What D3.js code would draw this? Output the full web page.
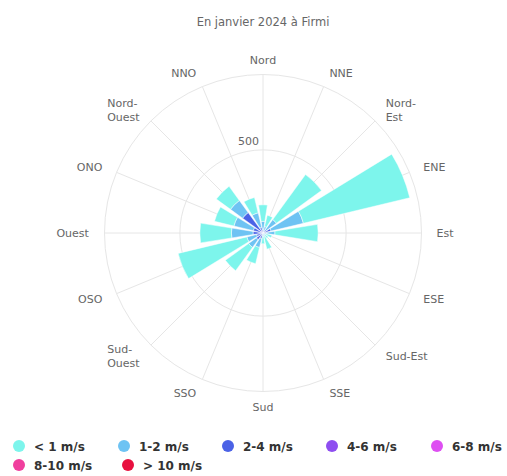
<!DOCTYPE html>
<html>
<head>
<meta charset="utf-8">
<script src="https://cdn.jsdelivr.net/npm/d3@7"></script>
<style>
  body { margin: 0; background: #fff; }
  svg { display: block; font-family: "DejaVu Sans", Verdana, sans-serif; }
</style>
</head>
<body>
<div id="chart"></div>
<script>
// directions, clockwise from north
var directions = ["N", "NNE", "NE", "ENE", "E", "ESE", "SE", "SSE",
                  "S", "SSO", "SO", "OSO", "O", "ONO", "NO", "NNO"];
var dirLabels = [["Nord"], ["NNE"], ["Nord-", "Est"], ["ENE"], ["Est"], ["ESE"], ["Sud-Est"], ["SSE"],
                 ["Sud"], ["SSO"], ["Sud-", "Ouest"], ["OSO"], ["Ouest"], ["ONO"], ["Nord-", "Ouest"], ["NNO"]];

// one array per speed class (same order as directions)
var lt1   = [100, 70, 335, 658, 260, 35, 25, 75, 45, 100, 173, 425, 190, 120, 105, 95];
var s1_2  = [ 50, 30,  75, 200,  50, 15, 10, 20, 15,  55,  57,  60, 130, 120,  90, 90];
var s2_4  = [ 20, 10,  25,  40,  20,  5,  5,  5,  5,  30,  40,  30,  50,  50, 135, 30];
var s4_6  = [  0,  0,   0,  10,   2,  0,  0,  0,  0,   5,  10,  10,  10,  10,  15,  5];
var s6_8  = [  0,  0,   0,   0,   0,  0,  0,  0,  0,   0,   0,   0,   0,   0,   2,  0];
var s8_10 = [  0,  0,   0,   0,   0,  0,  0,  0,  0,   0,   0,   0,   0,   0,   0,  0];
var gt10  = [  0,  0,   0,   0,   0,  0,  0,  0,  0,   0,   0,   0,   0,   0,   0,  0];

var seriesNames = ["< 1 m/s", "1-2 m/s", "2-4 m/s", "4-6 m/s", "6-8 m/s", "8-10 m/s", "> 10 m/s"];
var seriesData = [lt1, s1_2, s2_4, s4_6, s6_8, s8_10, gt10];
var colors = ["#7df5ec", "#6ec3f3", "#4b62e6", "#8e4ef0", "#de4ff2", "#f03f9e", "#e8103f"];
var radialTicks = [500];

var width = 507, height = 476;
var cx = 263, cy = 233, radius = 158.5;

var svg = d3.select("#chart").append("svg")
  .attr("width", width)
  .attr("height", height);

// subtitle
svg.append("text")
  .attr("x", cx).attr("y", 26)
  .attr("text-anchor", "middle")
  .attr("fill", "#666")
  .style("font-size", "11.5px")
  .text("En janvier 2024 à Firmi");

// rows for the stack
var rows = directions.map(function(d, i) {
  var row = { dir: d };
  seriesNames.forEach(function(name, k) { row[name] = seriesData[k][i]; });
  return row;
});

// first series sits on the outside, so stack from the last one
var stackKeys = seriesNames.slice().reverse();
var stacked = d3.stack().keys(stackKeys)(rows);

var totals = rows.map(function(r) { return d3.sum(seriesNames, function(n) { return r[n]; }); });

var angle = d3.scaleBand()
  .domain(directions)
  .range([-Math.PI / 16, 2 * Math.PI - Math.PI / 16])
  .paddingInner(0.2)
  .paddingOuter(0.1);

var r = d3.scaleLinear()
  .domain([0, d3.max(totals) * 1.05])
  .range([0, radius]);

var g = svg.append("g").attr("transform", "translate(" + cx + "," + cy + ")");

// grid
var grid = g.append("g").attr("class", "grid");
radialTicks.forEach(function(t) {
  grid.append("circle").attr("r", r(t))
    .attr("fill", "none").attr("stroke", "#e6e6e6");
});
grid.append("circle").attr("r", radius)
  .attr("fill", "none").attr("stroke", "#e6e6e6");

directions.forEach(function(d, i) {
  var a = i * Math.PI / 8;
  grid.append("line")
    .attr("x1", 0).attr("y1", 0)
    .attr("x2", radius * Math.sin(a))
    .attr("y2", -radius * Math.cos(a))
    .attr("stroke", "#e6e6e6");
});

// bars
var arc = d3.arc()
  .innerRadius(function(d) { return r(d[0]); })
  .outerRadius(function(d) { return r(d[1]); })
  .startAngle(function(d) { return angle(d.data.dir); })
  .endAngle(function(d) { return angle(d.data.dir) + angle.bandwidth(); });

g.append("g").selectAll("g")
  .data(stacked)
  .enter().append("g")
  .attr("fill", function(s) { return colors[seriesNames.indexOf(s.key)]; })
  .selectAll("path")
  .data(function(s) { return s; })
  .enter().append("path")
  .attr("d", arc)
  .attr("stroke", "#fff")
  .attr("stroke-width", 0.5);

// radial tick labels
radialTicks.forEach(function(t) {
  g.append("text")
    .attr("x", -4).attr("y", -r(t) - 5)
    .attr("text-anchor", "end")
    .attr("fill", "#666")
    .style("font-size", "11px")
    .text(t);
});

// direction labels
var labelDist = radius + 15;
dirLabels.forEach(function(lines, i) {
  var a = i * Math.PI / 8;
  var sx = Math.sin(a), cyv = -Math.cos(a);
  var x = labelDist * sx, y = labelDist * cyv;
  var t = g.append("text")
    .attr("fill", "#666")
    .style("font-size", "11px");
  var lineH = 14;
  var y0 = y - (lines.length - 1) * lineH / 2 + 4;
  lines.forEach(function(l, k) {
    t.append("tspan").attr("x", 0).attr("y", y0 + k * lineH).text(l);
  });
  var w = t.node().getBBox().width;
  var left;
  if (Math.abs(sx) < 0.01) left = x - w / 2;
  else if (sx > 0) left = x;
  else left = x - w;
  t.selectAll("tspan").attr("x", left);
});

// legend
var legendPos = [[19, 446], [124, 446], [228, 446], [332, 446], [437, 446], [19, 465], [128, 465]];
var legend = svg.append("g");
seriesNames.forEach(function(name, i) {
  var item = legend.append("g")
    .attr("transform", "translate(" + legendPos[i][0] + "," + legendPos[i][1] + ")");
  item.append("circle").attr("r", 6).attr("fill", colors[i]);
  item.append("text")
    .attr("x", 15).attr("y", 4.5)
    .attr("fill", "#333")
    .style("font-size", "12px")
    .style("font-weight", "bold")
    .text(name);
});
</script>
</body>
</html>
